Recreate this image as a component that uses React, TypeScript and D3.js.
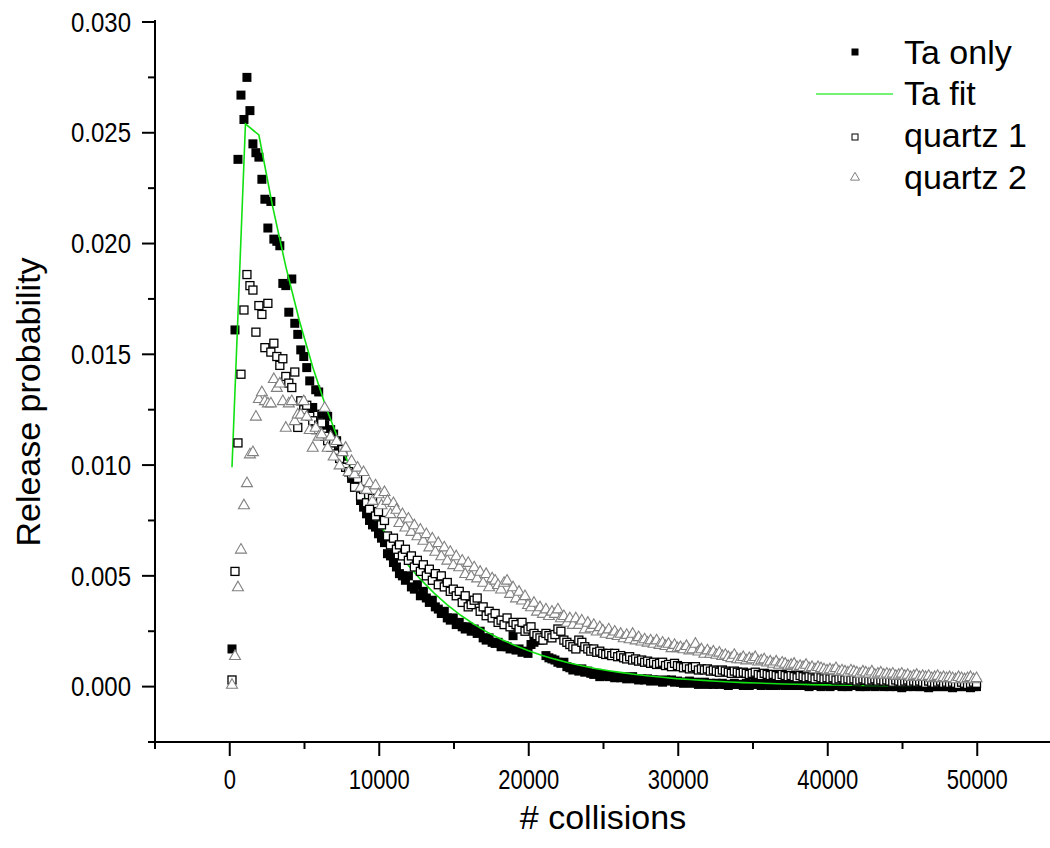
import React from "react";
import * as d3 from "d3";

// ---------- DATA ----------
// collision index grid: first sample at 150 collisions, one sample every 200 collisions
const firstCollision = 150;
const collisionStep = 200;

// Release probability values in units of 1e-4
const taOnly = [
  17, 161, 238, 267, 256, 275, 260, 245, 241, 239,
  229, 220, 207, 219, 202, 201, 199, 182, 181, 169,
  184, 164, 159, 152, 149, 144, 138, 126, 134, 133,
  123, 118, 122, 116, 114, 111, 106, 104, 99, 97,
  94, 91, 90, 84, 81, 78, 75, 73, 72, 69,
  67, 65, 60, 59, 56, 54, 51, 50, 48, 50,
  45, 44, 46, 41, 43, 40, 38, 39, 36, 35,
  33, 34, 31, 30, 31, 28, 29, 27, 26, 27,
  25, 26, 24, 25, 22, 21, 22, 20, 19.5, 20,
  18, 18.5, 18, 17, 23, 16.5, 17, 15.5, 16, 15,
  19, 20, 21, 21, 22, 14, 13, 12.5, 12, 11,
  10.5, 11, 9, 8.5, 7.5, 8, 7, 8, 6.5, 7,
  6, 5.5, 6, 4.5, 5.5, 5, 4.5, 5, 4, 4.5,
  4, 4.5, 3.5, 4, 4.5, 3.5, 3, 3.5, 3, 3.5,
  2.5, 3, 3, 2.5, 2, 3, 2.5, 3, 2, 2.5,
  2, 1.5, 2, 2.5, 1.5, 2, 1, 1.5, 2, 1,
  1.5, 1, 1.5, 1, 1.5, 1, 0.5, 1, 1.5, 1,
  1, 0.5, 1.5, 0.5, 1, 1.5, 1, 0.5, 1, 1,
  0.5, 1, 0.5, 1, 1, 0.5, 0.5, 1, 0.5, 0.5,
  0.5, 1, 0.5, 0, 0.5, 1, 0.5, 0, 0.5, 0.5,
  0, 0.5, 1, 0.5, 0, 0.5, 0, 0.5, 1, 0.5,
  0, 0.5, 0, 0.5, 0.5, 0, 0.5, 1, 0, 0.5,
  0, 0.5, 0, 0.5, -0.5, 0.5, 0, 0.5, 0, 0.5,
  0, 0, 0.5, -0.5, 0, 0.5, 0, 0, 0.5, 0,
  0, -0.5, 0.5, 0, 0, 0.5, 0, -0.5, 0, 0,
];

const quartz1 = [
  3, 52, 110, 141, 170, 186, 181, 179, 160, 172,
  168, 153, 173, 151, 155, 149, 145, 148, 140, 137,
  135, 142, 117, 129, 125, 127, 122, 120, 116, 118,
  119, 113, 111, 108, 110, 105, 103, 107, 99, 97,
  96, 90, 94, 86, 89, 83, 80, 85, 77, 79,
  73, 75, 68, 64, 67, 62, 64, 59, 62, 57,
  59, 54, 57, 52, 55, 50, 53, 48, 51, 46,
  50, 45, 47, 43, 44, 41, 43, 38, 41, 36,
  37, 39, 40, 34, 36, 32, 34, 31, 33, 29,
  30, 28, 31, 27, 29, 28, 26, 29, 25, 26,
  27, 24, 23, 22, 21, 24, 23, 22, 23.5, 26,
  25, 21, 20, 19, 18, 17, 21, 20, 18, 17,
  16, 17, 15.5, 16, 15, 14.5, 15, 14, 15, 13.5,
  14, 13, 12.5, 13.5, 12, 12.5, 11.5, 12, 11, 11.5,
  10.5, 11, 10, 10.5, 11, 9.5, 10, 9, 10.5, 9.5,
  9, 8.5, 9, 8, 8.5, 9, 7.5, 8, 7.5, 8,
  7, 7.5, 7, 6.5, 7.5, 7, 6.5, 6, 7, 6.5,
  6, 6.5, 6, 5.5, 6, 6.5, 5.5, 5, 6, 5.5,
  5, 5.5, 5, 4.5, 5.5, 5, 4.5, 5, 4.5, 4,
  5, 4.5, 4, 4.5, 4, 3.5, 4.5, 4, 3.5, 4,
  3.5, 4, 3, 3.5, 4, 3, 3.5, 3, 3.5, 2.5,
  3, 3.5, 3, 2.5, 3, 3.5, 2.5, 3, 2.5, 3,
  2.5, 2, 3, 2.5, 2, 2.5, 3, 2, 2.5, 2,
  2.5, 2, 1.5, 2.5, 2, 1.5, 2, 2.5, 1.5, 2,
  1.5, 2, 1.5, 1, 2, 1.5, 1, 1.5, 2, 1.5,
];

const quartz2 = [
  1, 14, 45, 62, 82, 92, 105, 106, 122, 130,
  133, 129, 128, 128, 139, 135, 137, 129, 117, 128,
  129, 120, 123, 123, 129, 122, 116, 108, 117, 113,
  114, 126, 108, 113, 104, 111, 100, 106, 108, 97,
  102, 96, 99, 90, 97, 89, 92, 84, 91, 87,
  82, 88, 84, 78, 83, 80, 74, 78, 72, 76,
  70, 73, 68, 71, 66, 69, 63, 67, 61, 65,
  59, 63, 57, 61, 55, 59, 54, 57, 51, 56,
  50, 54, 49, 52, 47, 51, 45, 49, 48, 46,
  44, 47, 48, 42, 45, 40, 43, 39, 41, 37,
  36, 38, 34, 36, 33, 35, 32, 34, 33, 35,
  31, 32, 29, 31, 28, 31, 28, 30, 26, 29,
  26.5, 28, 25, 27, 25.5, 24, 26, 23.5, 25, 23,
  24, 22, 23.5, 21.5, 24, 21, 22.5, 20.5, 21.5, 20,
  21, 19.5, 21, 19, 20, 18.5, 19.5, 17.5, 19, 17.5,
  18, 17, 18.5, 16.5, 17, 19.5, 16, 17, 15, 16.5,
  15, 16, 14.5, 15.5, 14, 14.5, 13.5, 13, 14.5, 12.5,
  12.5, 13.5, 12, 13, 12.5, 13.5, 11.5, 12, 12.5, 11,
  11.5, 10.5, 11.5, 10, 11, 10.5, 9.5, 10, 10.5, 9,
  9.5, 9, 10, 8.5, 9, 8, 9, 8.5, 8, 7.5,
  8, 7.5, 8.5, 7, 7.5, 7, 6.5, 7.5, 7, 6.5,
  6, 7, 6.5, 6, 7, 5.5, 6, 6.5, 5.5, 6,
  5.5, 6, 5, 5.5, 6, 5, 5.5, 4.5, 5, 5.5,
  4.5, 5, 4.5, 5, 4, 4.5, 5, 4, 4.5, 4,
  4.5, 4, 3.5, 4.5, 4, 3.5, 4, 4.5, 3.5, 4,
];

// Ta fit polyline vertices (collisions) and values (1e-4)
const fitCollisions = [
  150, 1050, 1950, 2850, 3750, 4650, 5550, 6450, 7350, 8250,
  9150, 10050, 10950, 11850, 12750, 13650, 14550, 15450, 16350, 17250,
  18150, 19050, 19950, 20850, 21750, 22650, 23550, 24450, 25350, 26250,
  27150, 28050, 28950, 29850, 30750, 31650, 32550, 33450, 34350, 35250,
  36150, 37050, 37950, 38850, 39750, 40650, 41550, 42450, 43350, 44250,
  45150, 46050, 46950, 47850, 48750, 49650,
];
const fitValues = [
  99, 254, 249, 217.3, 189.6, 165.4, 144.3, 125.9, 109.9, 95.9,
  83.6, 73.0, 63.7, 55.5, 48.5, 42.3, 36.9, 32.2, 28.1, 24.5,
  21.4, 18.7, 16.3, 14.2, 12.4, 10.8, 9.4, 8.2, 7.2, 6.3,
  5.5, 4.8, 4.2, 3.6, 3.2, 2.8, 2.4, 2.1, 1.8, 1.6,
  1.4, 1.2, 1.1, 0.9, 0.8, 0.7, 0.6, 0.5, 0.5, 0.4,
  0.3, 0.3, 0.3, 0.2, 0.2, 0.2,
];

const xMajorTicks = [0, 10000, 20000, 30000, 40000, 50000];
const xMinorTicks = [-5000, 5000, 15000, 25000, 35000, 45000, 55000];
const yMajorTicks = [0, 0.005, 0.01, 0.015, 0.02, 0.025, 0.03];
const yMinorTicks = [-0.0025, 0.0025, 0.0075, 0.0125, 0.0175, 0.0225, 0.0275];

const legendItems = ["Ta only", "Ta fit", "quartz 1", "quartz 2"];

const FONT = "'Liberation Sans', Arial, Helvetica, sans-serif";
const UNIT = 1e-4;

export default function App() {
  const W = 1050;
  const H = 848;
  const x = d3.scaleLinear().domain([-5000, 55000]).range([155, 1052]);
  const y = d3.scaleLinear().domain([-0.0025, 0.03]).range([742, 22]);

  const toPts = (vals: number[]) =>
    vals.map((v, i) => ({ cx: x(firstCollision + collisionStep * i), cy: y(v * UNIT) }));

  const taPts = toPts(taOnly);
  const q1Pts = toPts(quartz1);
  const q2Pts = toPts(quartz2);

  const fitLine = d3
    .line<number>()
    .x((_, i) => x(fitCollisions[i]))
    .y((d) => y(d * UNIT))(fitValues) as string;

  const tri = (cx: number, cy: number, s: number) => {
    const h = s * 0.87;
    return `M${cx},${cy - h * 0.6}L${cx + s / 2},${cy + h * 0.4}L${cx - s / 2},${cy + h * 0.4}Z`;
  };

  const xAxisY = 742;
  const yAxisX = 155;
  const fmtY = d3.format(".3f");

  return (
    <svg width={W} height={H} style={{ position: "absolute", left: 0, top: 0, background: "#fff" }} fontFamily={FONT}>
      <rect x={0} y={0} width={W} height={H} fill="#fff" />
      {/* Ta only */}
      <g>
        {taPts.map((p, i) => (
          <rect key={i} x={p.cx - 4.5} y={p.cy - 4.5} width={9} height={9} fill="#000" />
        ))}
      </g>
      {/* Ta fit */}
      <path d={fitLine} fill="none" stroke="#11e011" strokeWidth={1.6} />
      {/* quartz 1 */}
      <g>
        {q1Pts.map((p, i) => (
          <rect key={i} x={p.cx - 4} y={p.cy - 4} width={8} height={8} fill="#fff" stroke="#000" strokeWidth={1.3} />
        ))}
      </g>
      {/* quartz 2 */}
      <g>
        {q2Pts.map((p, i) => (
          <path key={i} d={tri(p.cx, p.cy, 11)} fill="#fff" stroke="#808080" strokeWidth={1.1} />
        ))}
      </g>

      {/* axes */}
      <line x1={yAxisX} x2={yAxisX} y1={20} y2={xAxisY + 1} stroke="#000" strokeWidth={2} />
      <line x1={yAxisX - 1} x2={1050} y1={xAxisY} y2={xAxisY} stroke="#000" strokeWidth={2} />
      {yMajorTicks.map((t) => (
        <g key={"ym" + t}>
          <line x1={yAxisX - 13} x2={yAxisX} y1={y(t)} y2={y(t)} stroke="#000" strokeWidth={2} />
          <text
            transform={`translate(131,${y(t)}) scale(1,1.12)`}
            dy="0.36em"
            textAnchor="end"
            fontSize={24}
          >
            {fmtY(t)}
          </text>
        </g>
      ))}
      {yMinorTicks.map((t) => (
        <line key={"yn" + t} x1={yAxisX - 7} x2={yAxisX} y1={y(t)} y2={y(t)} stroke="#000" strokeWidth={2} />
      ))}
      {xMajorTicks.map((t) => (
        <g key={"xm" + t}>
          <line x1={x(t)} x2={x(t)} y1={xAxisY} y2={xAxisY + 14} stroke="#000" strokeWidth={2} />
          <text transform={`translate(${x(t)},789) scale(1,1.25)`} textAnchor="middle" fontSize={22}>
            {t}
          </text>
        </g>
      ))}
      {xMinorTicks.map((t) => (
        <line key={"xn" + t} x1={x(t)} x2={x(t)} y1={xAxisY} y2={xAxisY + 7} stroke="#000" strokeWidth={2} />
      ))}

      {/* axis titles */}
      <text x={603} y={829} textAnchor="middle" fontSize={34}>
        # collisions
      </text>
      <text transform="translate(40,402) rotate(-90)" textAnchor="middle" fontSize={34}>
        Release probability
      </text>

      {/* legend */}
      <g>
        <rect x={851.5} y={48.5} width={7} height={7} fill="#000" />
        <text x={904} y={64} fontSize={34}>{legendItems[0]}</text>
        <line x1={816} x2={893} y1={94} y2={94} stroke="#44ee44" strokeWidth={1.6} />
        <text x={904} y={105} fontSize={34}>{legendItems[1]}</text>
        <rect x={852} y={134} width={6} height={6} fill="#fff" stroke="#000" strokeWidth={1} />
        <text x={904} y={147} fontSize={34}>{legendItems[2]}</text>
        <path d={tri(855, 177, 9)} fill="#fff" stroke="#808080" strokeWidth={1} />
        <text x={904} y={189} fontSize={34}>{legendItems[3]}</text>
      </g>
    </svg>
  );
}
